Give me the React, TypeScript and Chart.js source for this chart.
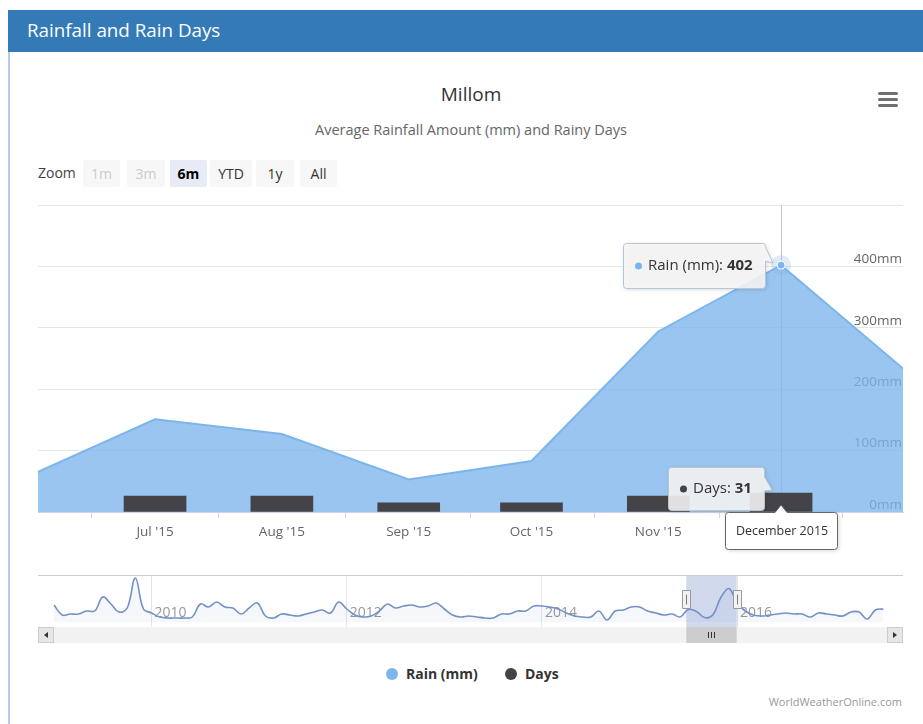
import React, { useEffect, useRef } from "react";
import { Chart, registerables } from "chart.js";

Chart.register(...registerables);

const FONT = "'Open Sans', 'Noto Sans', sans-serif";
Chart.defaults.font.family = FONT;

// ---- main chart data (visible window) ----
const monthLabels = ["Jun '15", "Jul '15", "Aug '15", "Sep '15", "Oct '15", "Nov '15", "Dec '15", "Jan '16"];
const monthDates = ["2015-06-01", "2015-07-01", "2015-08-01", "2015-09-01", "2015-10-01", "2015-11-01", "2015-12-01", "2016-01-01"];
const rainMm = [61, 151, 127, 53, 83, 294, 402, 227];
const rainDays: (number | null)[] = [null, 26, 26, 15, 15, 26, 31, null];
const yTicks = [0, 100, 200, 300, 400, 500];
const hoverIndex = 6;
const hoverDateLabel = "December 2015";

// ---- navigator data (monthly rain, Jan 2009 onwards) ----
const navStartYear = 2009;
const navRain = [
  204, 84, 96, 96, 132, 132, 300, 216, 120, 168, 528, 156,
  108, 60, 48, 48, 48, 60, 216, 180, 240, 180, 168, 96,
  168, 228, 72, 48, 96, 84, 72, 96, 120, 144, 108, 240,
  156, 84, 60, 72, 132, 216, 168, 192, 204, 180, 192, 228,
  156, 84, 60, 72, 60, 48, 48, 96, 96, 132, 132, 192,
  192, 180, 156, 108, 72, 60, 60, 132, 24, 132, 144, 180,
  180, 132, 108, 84, 96, 61, 151, 127, 53, 83, 294, 402,
  227, 132, 84, 72, 84, 96, 108, 96, 96, 60, 108, 96,
  84, 72, 120, 120, 36, 144, 156,
];
const navYearTicks = [2010, 2012, 2014, 2016];
const navRange = [77.75, 83.95];

const rangeButtons = [
  { label: "1m", left: 83, width: 37, state: "disabled" },
  { label: "3m", left: 127, width: 38, state: "disabled" },
  { label: "6m", left: 170, width: 37, state: "selected" },
  { label: "YTD", left: 210, width: 42, state: "normal" },
  { label: "1y", left: 256, width: 38, state: "normal" },
  { label: "All", left: 300, width: 37, state: "normal" },
];

const DAY = 86400000;
const toMs = (s: string) => Date.parse(s + "T00:00:00Z");
const xs = monthDates.map(toMs);
const viewMin = xs[0] + 1.4 * DAY;
const viewMax = viewMin + 211.4 * DAY;

function calloutPath(ctx: CanvasRenderingContext2D, x: number, y: number, w: number, h: number, r: number, ptr: any) {
  ctx.beginPath();
  ctx.moveTo(x + r, y);
  if (ptr && ptr.side === "top") {
    ctx.lineTo(ptr.x - 6, y);
    ctx.lineTo(ptr.x, ptr.y);
    ctx.lineTo(ptr.x + 6, y);
  }
  ctx.lineTo(x + w - r, y);
  ctx.arcTo(x + w, y, x + w, y + r, r);
  if (ptr && ptr.side === "right") {
    ctx.lineTo(x + w, ptr.b0);
    ctx.lineTo(ptr.x, ptr.y);
    ctx.lineTo(x + w, ptr.b1);
  }
  ctx.lineTo(x + w, y + h - r);
  ctx.arcTo(x + w, y + h, x + w - r, y + h, r);
  ctx.lineTo(x + r, y + h);
  ctx.arcTo(x, y + h, x, y + h - r, r);
  ctx.lineTo(x, y + r);
  ctx.arcTo(x, y, x + r, y, r);
  ctx.closePath();
}

function drawBubble(ctx: CanvasRenderingContext2D, x: number, y: number, w: number, h: number, ptr: any, fill: string, stroke: string) {
  ctx.save();
  ctx.shadowColor = "rgba(0,0,0,0.18)";
  ctx.shadowBlur = 4;
  ctx.shadowOffsetX = 1;
  ctx.shadowOffsetY = 1;
  calloutPath(ctx, x + 0.5, y + 0.5, w, h, 3, ptr);
  ctx.fillStyle = fill;
  ctx.fill();
  ctx.restore();
  ctx.save();
  calloutPath(ctx, x + 0.5, y + 0.5, w, h, 3, ptr);
  ctx.strokeStyle = stroke;
  ctx.lineWidth = 1;
  ctx.stroke();
  ctx.restore();
}

function drawSeriesTip(
  ctx: CanvasRenderingContext2D,
  rightX: number,
  top: number,
  h: number,
  dotColor: string,
  label: string,
  value: string,
  ptrFn: (x: number, y: number, w: number) => any,
  stroke: string
) {
  const reg = `15px ${FONT}`;
  const bold = `bold 15px ${FONT}`;
  ctx.save();
  ctx.font = reg;
  const lw = ctx.measureText(label).width;
  ctx.font = bold;
  const vw = ctx.measureText(value).width;
  ctx.restore();
  const w = Math.round(12 + 7 + 6 + lw + vw + 12);
  const x = Math.round(rightX - w);
  drawBubble(ctx, x, top, w, h, ptrFn(x, top, w), "rgba(247,247,247,0.88)", stroke);
  const cy = top + h / 2 + 0.5;
  ctx.save();
  ctx.fillStyle = dotColor;
  ctx.beginPath();
  ctx.arc(x + 15.5, cy, 3.5, 0, Math.PI * 2);
  ctx.fill();
  ctx.textBaseline = "middle";
  ctx.textAlign = "left";
  ctx.fillStyle = "#333333";
  ctx.font = reg;
  ctx.fillText(label, x + 25, cy);
  ctx.font = bold;
  ctx.fillText(value, x + 25 + lw, cy);
  ctx.restore();
}

const mainOverlay = {
  id: "mainOverlay",
  beforeDatasetsDraw(chart: any) {
    const { ctx, chartArea, scales } = chart;
    const px = Math.round(scales.x.getPixelForValue(xs[hoverIndex])) + 0.5;
    ctx.save();
    ctx.strokeStyle = "#c8c8c8";
    ctx.lineWidth = 1;
    ctx.beginPath();
    ctx.moveTo(px, chartArea.top);
    ctx.lineTo(px, chartArea.bottom);
    ctx.stroke();
    ctx.restore();
  },
  afterDraw(chart: any) {
    const { ctx, chartArea, scales } = chart;
    const px = scales.x.getPixelForValue(xs[hoverIndex]);
    const py = scales.y.getPixelForValue(rainMm[hoverIndex]);
    const by = scales.y.getPixelForValue(rainDays[hoverIndex] as number);

    // hover halo + marker
    ctx.save();
    ctx.fillStyle = "rgba(124,181,236,0.25)";
    ctx.beginPath();
    ctx.arc(px, py, 10, 0, Math.PI * 2);
    ctx.fill();
    ctx.fillStyle = "#7cb5ec";
    ctx.strokeStyle = "#ffffff";
    ctx.lineWidth = 1;
    ctx.beginPath();
    ctx.arc(px, py, 4, 0, Math.PI * 2);
    ctx.fill();
    ctx.stroke();
    ctx.restore();

    // Rain tooltip
    drawSeriesTip(
      ctx,
      px - 16,
      Math.round(py - 22),
      45,
      "#7cb5ec",
      "Rain (mm): ",
      String(rainMm[hoverIndex]),
      (x: number, y: number, w: number) => ({ side: "right", b0: y + 4, b1: y + 18, x: px - 8, y: py - 2 }),
      "#b4c6d8"
    );

    // Days tooltip
    drawSeriesTip(
      ctx,
      px - 17,
      Math.round(by - 26),
      43,
      "#434348",
      "Days: ",
      String(rainDays[hoverIndex]),
      (x: number, y: number, w: number) => ({ side: "right", b0: y + 10, b1: y + 24, x: px - 9, y: by - 3 }),
      "#c4c4c4"
    );

    // date label
    ctx.save();
    ctx.font = `12.5px ${FONT}`;
    const tw = ctx.measureText(hoverDateLabel).width;
    ctx.restore();
    const w = Math.round(tw + 20);
    const x0 = Math.round(px - w / 2);
    const y0 = Math.round(chartArea.bottom);
    drawBubble(ctx, x0, y0, w, 37, { side: "top", x: px, y: y0 - 7 }, "#ffffff", "#666666");
    ctx.save();
    ctx.font = `12.5px ${FONT}`;
    ctx.fillStyle = "#333333";
    ctx.textAlign = "center";
    ctx.textBaseline = "middle";
    ctx.fillText(hoverDateLabel, px + 1, y0 + 19);
    ctx.restore();
  },
};

const navOverlay = {
  id: "navOverlay",
  beforeDatasetsDraw(chart: any) {
    const { ctx, chartArea: a, scales } = chart;
    const s = scales.x.getPixelForValue(navRange[0]);
    const e = scales.x.getPixelForValue(navRange[1]);
    ctx.save();
    ctx.fillStyle = "rgba(102,133,194,0.3)";
    ctx.fillRect(s, a.top, e - s, a.bottom - a.top);
    // year labels inside the navigator
    ctx.font = `14px ${FONT}`;
    ctx.fillStyle = "#999999";
    ctx.textAlign = "left";
    ctx.textBaseline = "middle";
    for (const yr of navYearTicks) {
      const tx = scales.x.getPixelForValue((yr - navStartYear) * 12);
      ctx.fillText(String(yr), tx + 3, a.top + 38);
    }
    ctx.restore();
  },
  afterDraw(chart: any) {
    const { ctx, chartArea: a, scales } = chart;
    const s = scales.x.getPixelForValue(navRange[0]);
    const e = scales.x.getPixelForValue(navRange[1]);
    ctx.save();
    // top outline
    ctx.strokeStyle = "#cccccc";
    ctx.lineWidth = 1;
    ctx.beginPath();
    ctx.moveTo(a.left, Math.round(a.top) + 0.5);
    ctx.lineTo(a.right, Math.round(a.top) + 0.5);
    ctx.stroke();

    // scrollbar
    const sy = Math.round(a.bottom);
    const sh = 16;
    ctx.fillStyle = "#f2f2f2";
    ctx.fillRect(a.left, sy, a.right - a.left, sh);
    ctx.fillStyle = "#cccccc";
    ctx.fillRect(s, sy, e - s, sh);
    ctx.strokeStyle = "#333333";
    const gc = Math.round((s + e) / 2) + 0.5;
    for (const d of [-3, 0, 3]) {
      ctx.beginPath();
      ctx.moveTo(gc + d, sy + 5);
      ctx.lineTo(gc + d, sy + 11);
      ctx.stroke();
    }
    // buttons
    const btn = (bx: number, dir: number) => {
      ctx.fillStyle = "#e6e6e6";
      ctx.fillRect(bx, sy, 16, sh);
      ctx.strokeStyle = "#cccccc";
      ctx.strokeRect(bx + 0.5, sy + 0.5, 15, sh - 1);
      ctx.fillStyle = "#333333";
      const cx = bx + 8;
      const cy = sy + 8;
      ctx.beginPath();
      ctx.moveTo(cx - 2 * dir, cy);
      ctx.lineTo(cx + 2 * dir, cy - 3);
      ctx.lineTo(cx + 2 * dir, cy + 3);
      ctx.closePath();
      ctx.fill();
    };
    btn(a.left, 1);
    btn(a.right - 16, -1);

    // handles
    const handle = (hx: number) => {
      const x = Math.round(hx - 4) + 0.5;
      const y = Math.round(a.top + 15) + 0.5;
      ctx.fillStyle = "#f2f2f2";
      ctx.strokeStyle = "#999999";
      ctx.beginPath();
      ctx.rect(x, y, 8, 18);
      ctx.fill();
      ctx.stroke();
      ctx.strokeStyle = "#777777";
      ctx.beginPath();
      ctx.moveTo(x + 4, y + 4);
      ctx.lineTo(x + 4, y + 14);
      ctx.stroke();
    };
    handle(s);
    handle(e);
    ctx.restore();
  },
};

export default function App() {
  const mainRef = useRef<HTMLCanvasElement>(null);
  const navRef = useRef<HTMLCanvasElement>(null);

  useEffect(() => {
    const main = new Chart(mainRef.current as HTMLCanvasElement, {
      type: "line",
      data: {
        datasets: [
          {
            type: "bar",
            label: "Days",
            data: xs.map((x, i) => ({ x, y: rainDays[i] })) as any,
            backgroundColor: "#434348",
            barThickness: 62,
            grouped: false,
            order: 0,
          } as any,
          {
            type: "line",
            label: "Rain (mm)",
            data: xs.map((x, i) => ({ x, y: rainMm[i] })) as any,
            borderColor: "#7cb5ec",
            borderWidth: 2,
            backgroundColor: "rgba(124,181,236,0.78)",
            fill: "origin",
            pointRadius: 0,
            tension: 0,
            order: 1,
            clip: 0,
          } as any,
        ],
      },
      options: {
        animation: false,
        responsive: false,
        maintainAspectRatio: false,
        events: [],
        layout: { padding: { left: 38, right: 20, top: 15, bottom: 0 } },
        plugins: { legend: { display: false }, tooltip: { enabled: false } },
        scales: {
          x: {
            type: "linear",
            min: viewMin,
            max: viewMax,
            offset: false,
            afterBuildTicks: (s: any) => {
              s.ticks = xs.slice(1, 7).map((v) => ({ value: v }));
            },
            afterFit: (s: any) => {
              s.height = 48;
            },
            ticks: {
              autoSkip: false,
              maxRotation: 0,
              padding: 6,
              color: "#666666",
              font: { size: 13.5 },
              callback: (v: any) => monthLabels[xs.indexOf(v)] ?? "",
            },
            grid: { drawOnChartArea: false, tickLength: 6, color: "#ccd6eb" },
            border: { color: "#ccd6eb" },
          },
          y: {
            position: "right",
            min: 0,
            max: 500,
            afterBuildTicks: (s: any) => {
              s.ticks = yTicks.map((v) => ({ value: v }));
            },
            afterFit: (s: any) => {
              s.width = 0;
            },
            ticks: {
              mirror: true,
              padding: -1,
              labelOffset: -7,
              color: "#666666",
              font: { size: 13.5 },
              callback: (v: any) => (v === 500 ? "" : v + "mm"),
            },
            grid: { color: "#e6e6e6", drawTicks: false },
            border: { display: false },
          },
        },
      } as any,
      plugins: [mainOverlay],
    });

    const nav = new Chart(navRef.current as HTMLCanvasElement, {
      type: "line",
      data: {
        datasets: [
          {
            label: "Rain (mm)",
            data: navRain.map((v, i) => ({ x: i, y: v })) as any,
            borderColor: "#7391c8",
            borderWidth: 1.6,
            backgroundColor: "rgba(51,92,173,0.05)",
            fill: "origin",
            pointRadius: 0,
            tension: 0.4,
            clip: 0,
          } as any,
        ],
      },
      options: {
        animation: false,
        responsive: false,
        maintainAspectRatio: false,
        events: [],
        layout: { padding: { left: 38, right: 20, top: 10, bottom: 23 } },
        plugins: { legend: { display: false }, tooltip: { enabled: false } },
        scales: {
          x: {
            type: "linear",
            min: -1.97,
            max: 104.4,
            afterBuildTicks: (s: any) => {
              s.ticks = navYearTicks.map((yr) => ({ value: (yr - navStartYear) * 12 }));
            },
            afterFit: (s: any) => {
              s.height = 0;
            },
            ticks: { display: false },
            grid: { color: "#e6e6e6", drawTicks: false },
            border: { display: false },
          },
          y: { display: false, min: -60, max: 564 },
        },
      } as any,
      plugins: [navOverlay],
    });

    return () => {
      main.destroy();
      nav.destroy();
    };
  }, []);

  return (
    <div
      style={{
        position: "absolute",
        left: 0,
        top: 0,
        width: 923,
        height: 724,
        overflow: "hidden",
        background: "#ffffff",
        fontFamily: FONT,
      }}
    >
      <div
        style={{
          position: "absolute",
          left: 8,
          top: 10,
          width: 915,
          height: 42,
          background: "#337ab7",
          color: "#ffffff",
          fontSize: 18.8,
          lineHeight: "40px",
          paddingLeft: 19,
          boxSizing: "border-box",
        }}
      >
        Rainfall and Rain Days
      </div>
      <div style={{ position: "absolute", left: 8, top: 52, width: 2, height: 672, background: "#b3cde8" }} />

      <div
        style={{
          position: "absolute",
          left: 0,
          width: 942,
          top: 82,
          lineHeight: "24px",
          fontSize: 19,
          color: "#333333",
          textAlign: "center",
        }}
      >
        Millom
      </div>
      <div
        style={{
          position: "absolute",
          left: 0,
          width: 942,
          top: 120,
          lineHeight: "20px",
          fontSize: 14.5,
          color: "#666666",
          textAlign: "center",
        }}
      >
        Average Rainfall Amount (mm) and Rainy Days
      </div>

      {[92, 98, 104].map((t) => (
        <div
          key={t}
          style={{ position: "absolute", left: 878, top: t, width: 20, height: 3, borderRadius: 1.5, background: "#707070" }}
        />
      ))}

      <div style={{ position: "absolute", left: 38, top: 163, lineHeight: "20px", fontSize: 14, color: "#444444" }}>Zoom</div>
      {rangeButtons.map((b) => (
        <div
          key={b.label}
          style={{
            position: "absolute",
            left: b.left,
            top: 160,
            width: b.width,
            height: 27,
            lineHeight: "27px",
            textAlign: "center",
            fontSize: 14,
            borderRadius: 2,
            background: b.state === "selected" ? "#e6ebf5" : "#f7f7f7",
            color: b.state === "disabled" ? "#cccccc" : b.state === "selected" ? "#000000" : "#333333",
            fontWeight: b.state === "selected" ? 700 : 400,
          }}
        >
          {b.label}
        </div>
      ))}

      <canvas
        ref={mainRef}
        width={923}
        height={370}
        style={{ position: "absolute", left: 0, top: 190, width: 923, height: 370, display: "block" }}
      />
      <canvas
        ref={navRef}
        width={923}
        height={85}
        style={{ position: "absolute", left: 0, top: 565, width: 923, height: 85, display: "block" }}
      />

      <div style={{ position: "absolute", left: 386, top: 668, width: 12, height: 12, borderRadius: 6, background: "#7cb5ec" }} />
      <div style={{ position: "absolute", left: 406, top: 664, lineHeight: "20px", fontSize: 14, fontWeight: 700, color: "#333333" }}>
        Rain (mm)
      </div>
      <div style={{ position: "absolute", left: 505, top: 668, width: 12, height: 12, borderRadius: 6, background: "#434348" }} />
      <div style={{ position: "absolute", left: 525, top: 664, lineHeight: "20px", fontSize: 14, fontWeight: 700, color: "#333333" }}>
        Days
      </div>

      <div style={{ position: "absolute", right: 21, top: 694, lineHeight: "16px", fontSize: 11, color: "#999999" }}>
        WorldWeatherOnline.com
      </div>
    </div>
  );
}
